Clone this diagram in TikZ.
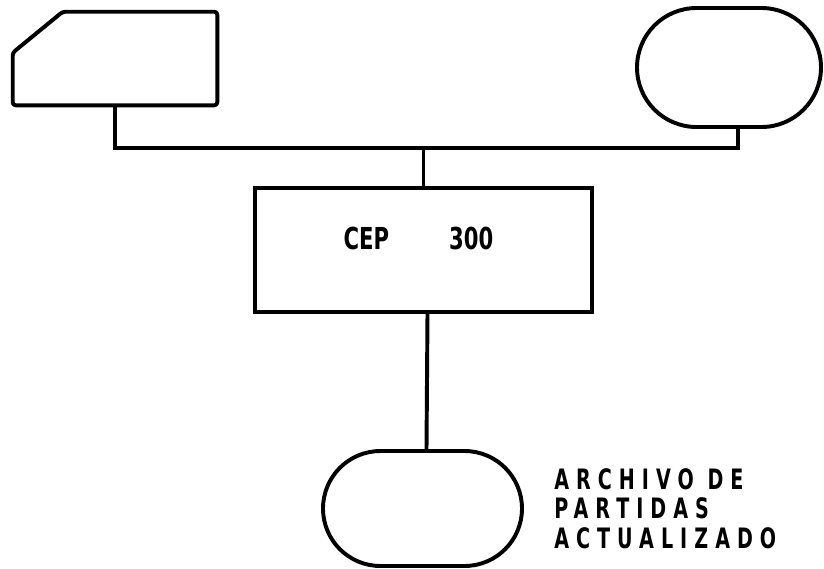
\documentclass[tikz,border=0pt]{standalone}
\usepackage{fontspec}
\setmainfont{DejaVu Sans}
\newfontfamily\tagfont{DejaVu Sans}[FakeStretch=0.7]
\newfontfamily\notefont{DejaVu Sans}[FakeStretch=0.68,LetterSpace=25]
\usetikzlibrary{shapes.misc,calc}

\begin{document}
\begin{tikzpicture}[
 x=1cm,y=1cm,
 part/.style={draw=black,line width=2.8pt,inner sep=0pt},
 card/.style={rectangle,inner sep=0pt},
 store/.style={part,rounded rectangle},
 unit/.style={part,rectangle},
 wire/.style={draw=black,line width=2.8pt},
 tag/.style={font=\tagfont\bfseries\fontsize{21.5}{24}\selectfont,inner sep=0pt},
 note/.style={font=\notefont\bfseries\fontsize{20}{21}\selectfont,align=left,inner sep=0pt,anchor=north west}
]
\useasboundingbox (0,0) rectangle (20.6,-14.225);

% input devices
\node[card,minimum width=5.1cm,minimum height=2.325cm] (card) at (2.875,-1.4625) {};
\draw[wire,line join=round,rounded corners=2pt] (card.south west) -- (card.south east) -- (card.north east)
  -- ([xshift=1.25cm]card.north west) -- ([yshift=-1.025cm]card.north west) -- cycle;
\node[store,minimum width=4.6cm,minimum height=2.975cm] (tape) at (18.225,-1.6875) {};

% processor
\node[unit,minimum width=8.425cm,minimum height=3.1cm] (cep) at (10.5875,-6.25) {};
\node[tag] (ceptag) at (10.46,-5.95) {CEP\hspace{1.5cm}300};

% output file
\node[store,minimum width=4.975cm,minimum height=2.875cm] (file) at (10.5625,-12.7125) {};
\node[note] (filetag) at (13.85,-11.7) {ARCHIVO DE\\PARTIDAS\\ACTUALIZADO};

\coordinate (bus) at (cep.north |- 0,-3.7);
\draw[wire] (card.south) |- (bus) -| ($(tape.south)+(.225,0)$);
\draw[wire] (bus) -- (cep.north);
\draw[wire] ($(cep.south)+(.1,0)$) -- ($(file.north)+(.1,0)$);
\end{tikzpicture}
\end{document}
